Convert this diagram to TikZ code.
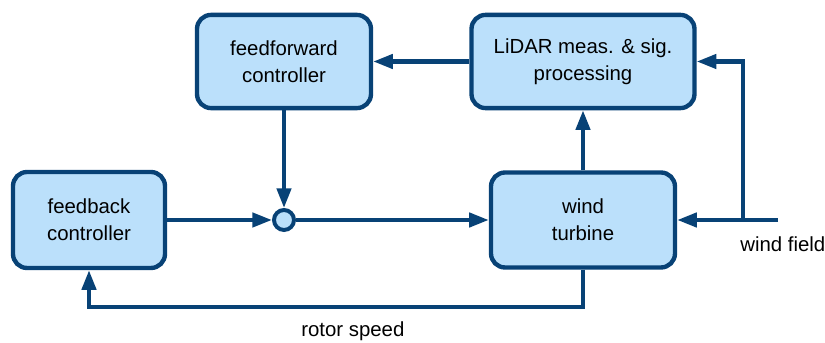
\documentclass[tikz,border=0pt]{standalone}
\usepackage{fontspec}
\setmainfont{Liberation Sans}
\usetikzlibrary{positioning,arrows.meta,calc}
\definecolor{blkline}{RGB}{8,66,118}
\definecolor{blkfill}{RGB}{187,224,251}

\begin{document}
\begin{tikzpicture}[
  font=\fontsize{14.5}{19.5}\selectfont,
  blk/.style={draw=blkline, line width=3.1pt, rounded corners=10pt, fill=blkfill, align=center, inner sep=2pt},
  sumpt/.style={circle, draw=blkline, line width=2.8pt, fill=blkfill, minimum size=0.5cm, inner sep=0pt},
  ar/.style={-{Triangle[length=14pt,width=10pt]}, blkline, line width=3pt},
]
\useasboundingbox (0,0) rectangle (20.625,8.575);
\def\yt{7.0375} \def\yb{3.075}
% blocks
\node[blk, minimum width=4.35cm, minimum height=2.33cm] (ff) at (7.1,\yt) {feedforward\\controller};
\node[blk, minimum width=5.575cm, minimum height=2.33cm] (lidar) at (14.575,\yt) {LiDAR meas. \& sig.\\processing};
\node[blk, minimum width=3.8cm, minimum height=2.4cm] (fb) at (2.225,\yb) {feedback\\controller};
\node[blk, minimum width=4.6cm, minimum height=2.375cm] (wt) at (14.575,\yb) {wind\\turbine};
\node[sumpt] (sum) at (7.1,\yb) {};
% wind input and branch point
\coordinate (wind) at (19.45,\yb);
\coordinate (split) at (18.575,\yb);
\coordinate (loop) at (0,0.9);
% labels
\node[anchor=base west, inner sep=0pt] (windlbl) at (18.5,2.275) {wind field};
\node[anchor=base west, inner sep=0pt] (speedlbl) at (7.525,0.15) {rotor speed};
% signal paths
\draw[ar] (lidar) -- (ff);
\draw[ar] (ff) -- (sum);
\draw[ar] (fb) -- (sum);
\draw[ar] (sum) -- (wt);
\draw[ar] (wt) -- (lidar);
\draw[ar] (wind) -- (wt);
\draw[ar] (split) |- (lidar.east);
\draw[ar] (wt.south) |- (loop -| fb.south) -- (fb.south);
\end{tikzpicture}
\end{document}
